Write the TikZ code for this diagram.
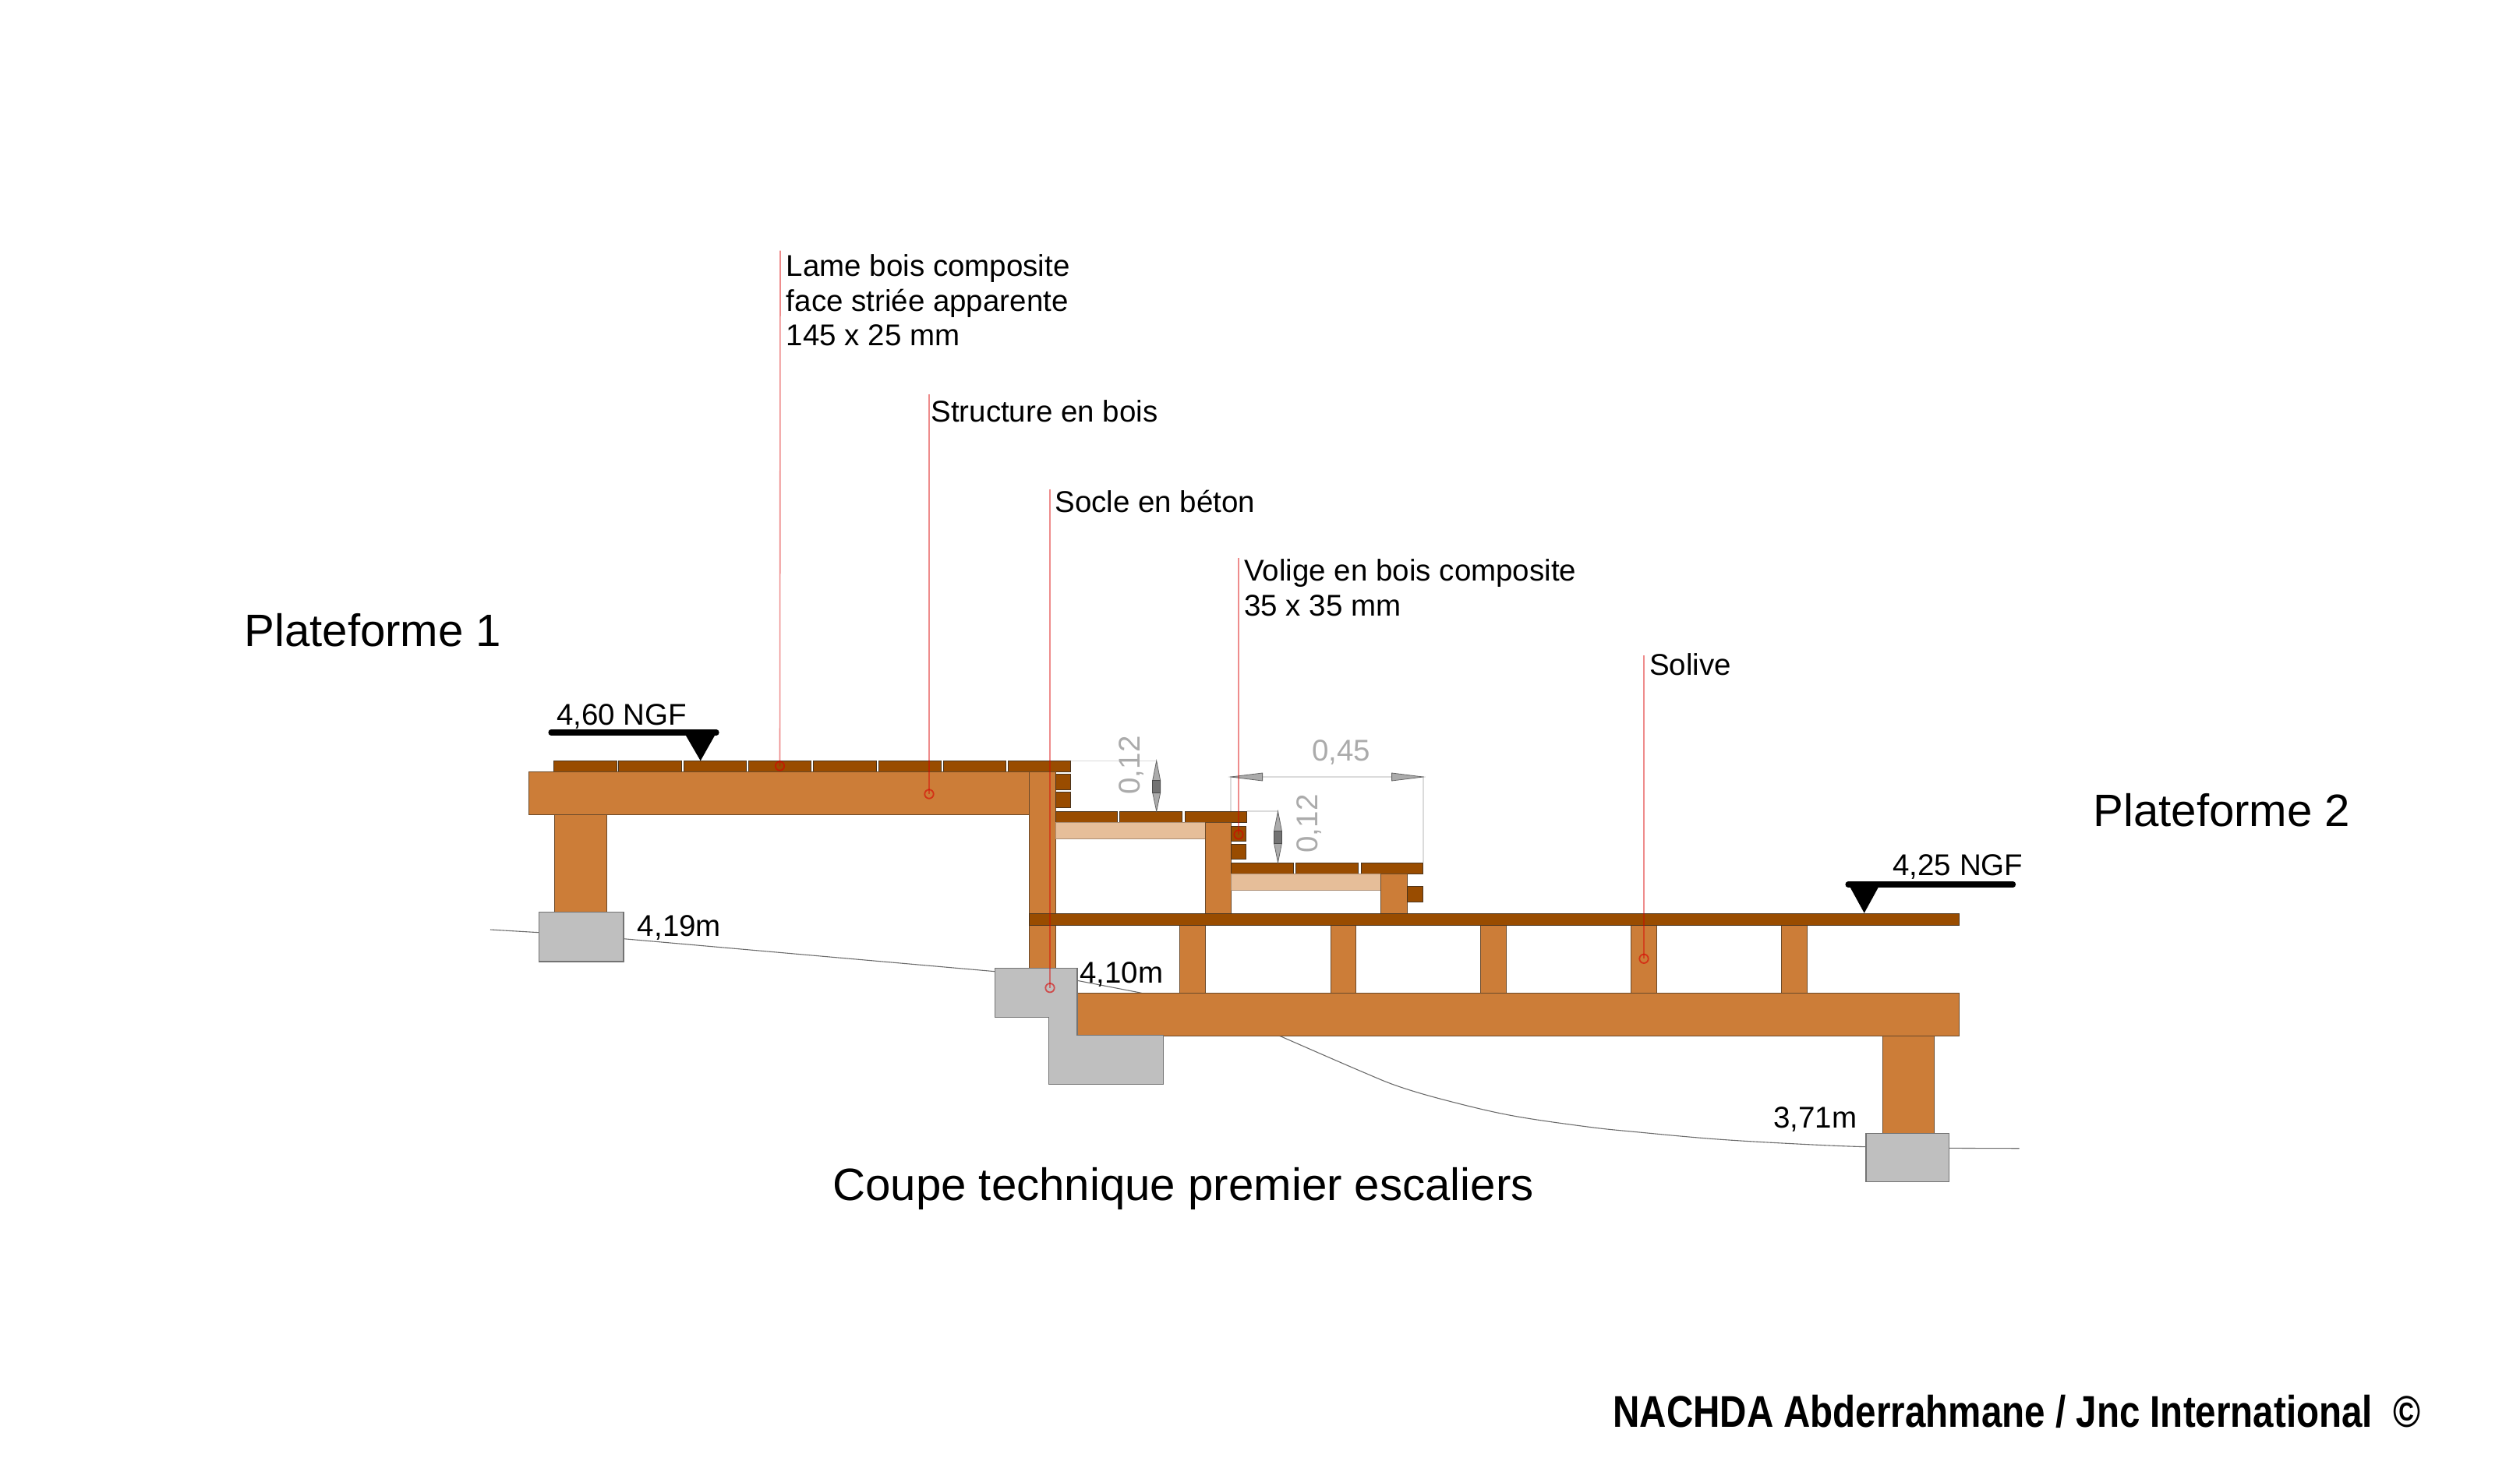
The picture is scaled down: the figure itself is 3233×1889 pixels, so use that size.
\documentclass[tikz,border=0pt]{standalone}
\usepackage{fontspec}
\setmainfont{Liberation Sans}
\definecolor{wood}{HTML}{CC7D38}
\definecolor{darkwood}{HTML}{994C00}
\definecolor{lightwood}{HTML}{E6BE99}
\definecolor{concrete}{HTML}{BFBFBF}
\definecolor{woodedge}{HTML}{6B4A2A}
\definecolor{dimtext}{HTML}{ABABAB}
\tikzset{
  woodpart/.style={fill=wood,draw=woodedge,line width=0.5pt},
  plank/.style={fill=darkwood,draw=woodedge!70!black,line width=0.35pt},
  lightpart/.style={fill=lightwood,draw=lightwood!75!black,line width=0.4pt},
  concretepart/.style={fill=concrete,draw=black!55,line width=0.6pt},
  groundline/.style={draw=black!58,line width=0.55pt},
  leader/.style={draw=red!85!black,draw opacity=0.45,line width=0.8pt},
  leaderdot/.style={draw=red!85!black,draw opacity=0.6,line width=0.9pt},
  levelbar/.style={draw=black,line width=3.6pt,line cap=round},
  dimline/.style={draw=black!14,line width=0.7pt},
  dimtip/.style={fill=black!33,draw=black!60,line width=0.4pt},
  dimbox/.style={fill=black!55,draw=black!70,line width=0.4pt},
  lab/.style={inner sep=0pt,anchor=base west,font=\fontsize{19.25}{22.4}\selectfont},
  biglab/.style={inner sep=0pt,anchor=base west,font=\fontsize{29.1}{33}\selectfont},
  dimlab/.style={inner sep=0pt,text=dimtext,font=\fontsize{19.25}{22.4}\selectfont},
}
\newcommand{\woodrect}[4]{\draw[woodpart] (#1,#2) rectangle (#3,#4);}
\newcommand{\plankrect}[4]{\draw[plank] (#1,#2) rectangle (#3,#4);}
\newcommand{\vdimension}[5]{% x, top, bottom, boxtop, boxbottom
  \draw[dimtip] (#1,#2) -- (#1+5,#4) -- (#1+5,#5) -- (#1,#3) -- (#1-5,#5) -- (#1-5,#4) -- cycle;
  \draw[dimbox] (#1-5,#4) rectangle (#1+5,#5);}
\begin{document}
\begin{tikzpicture}[x=0.5pt,y=-0.5pt]
\useasboundingbox (0,0) rectangle (3233,1889);
% ground
\draw[groundline] (629,1193) -- (691.5,1196.7) -- (800,1204.7) -- (1276.7,1246.7) -- (1382,1258.3) -- (1463,1274) -- (1643.3,1330);
\draw[groundline] plot[smooth,tension=0.6] coordinates {(1643.3,1330) (1746.7,1375) (1796.7,1395) (1860,1413.3) (1940,1431.7) (2036.7,1446) (2100,1452.7) (2200,1461.7) (2300,1467.7) (2394,1471.7) (2500.7,1473.3) (2590.7,1473.7)};
% dimension thin lines
\draw[dimline] (1373.5,976.3) -- (1483.7,976.3);
\draw[dimline] (1599.7,1041) -- (1639.5,1041);
\draw[dimline] (1579,1107) -- (1579,997) -- (1825.8,997) -- (1825.8,1107);
% platform 1
\foreach \a/\b in {710/791,793.5/874,877/957,960/1040.5,1043.6/1124,1127/1207,1210/1290.5,1293/1373.5}
  \plankrect{\a}{976.3}{\b}{990.3}
\woodrect{678}{990.3}{1320.4}{1045.7}
\woodrect{711.4}{1045.7}{778}{1170.7}
\draw[concretepart] (691.5,1170.7) rectangle (800,1234);
\woodrect{1320.4}{990.3}{1354}{1242.3}
\plankrect{1354}{993.3}{1373}{1013}
\plankrect{1354}{1016.7}{1373}{1036}
% first step
\foreach \a/\b in {1354/1433,1436/1516,1520/1599.7}
  \plankrect{\a}{1041}{\b}{1055}
\draw[lightpart] (1354,1055) rectangle (1546,1076.3);
\woodrect{1546}{1055}{1579.8}{1172.3}
\plankrect{1579.8}{1060}{1598.5}{1079}
\plankrect{1579.8}{1083}{1598.5}{1102.3}
% second step
\foreach \a/\b in {1579.8/1659.7,1662/1742.4,1746/1825.8}
  \plankrect{\a}{1107}{\b}{1121.5}
\draw[lightpart] (1579.8,1121.5) rectangle (1771.9,1142.7);
\woodrect{1771.9}{1121.5}{1805.5}{1172.3}
\plankrect{1805.5}{1137}{1825.8}{1157}
% platform 2
\foreach \a/\b in {1513.3/1546.3,1707/1739.7,1899/1932.7,2092.3/2125,2285.7/2318.7}
  \woodrect{\a}{1187}{\b}{1274}
\plankrect{1320.4}{1172.3}{2513.7}{1187}
\woodrect{1382}{1274}{2513.7}{1329}
\woodrect{2415.3}{1329}{2481.7}{1454.3}
% footings
\draw[concretepart] (1276.3,1242.3) -- (1382,1242.3) -- (1382,1328.7) -- (1492.3,1328.7) -- (1492.3,1391.7) -- (1345.7,1391.7) -- (1345.7,1305.7) -- (1276.3,1305.7) -- cycle;
\draw[concretepart] (2394,1454.3) rectangle (2500.7,1516.7);
% level marks
\draw[levelbar] (707,940) -- (919,940);
\fill[black] (878.8,942) -- (918,942) -- (898.7,976.3) -- cycle;
\draw[levelbar] (2371,1135) -- (2582.5,1135);
\fill[black] (2372.7,1137) -- (2410.7,1137) -- (2391.7,1171.7) -- cycle;
% dimension tips
\draw[dimtip] (1579,997) -- (1619.6,992) -- (1619.6,1002) -- cycle;
\draw[dimtip] (1825.8,997) -- (1785.6,992) -- (1785.6,1002) -- cycle;
\vdimension{1483.7}{976.3}{1041}{1001.7}{1017.3}
\vdimension{1639.5}{1041}{1107}{1066.7}{1082}
% leaders
\coordinate (t1) at (1001,321.7); \coordinate (e1) at (1000.5,983);
\coordinate (t2) at (1192,505.7); \coordinate (e2) at (1192,1019);
\coordinate (t3) at (1347,627.7); \coordinate (e3) at (1347,1267.7);
\coordinate (t4) at (1589,715.5); \coordinate (e4) at (1589,1071);
\coordinate (t5) at (2109,841);   \coordinate (e5) at (2109,1230.3);
\foreach \i in {1,...,5}{
  \draw[leader] (t\i) -- (e\i);
  \draw[leaderdot] (e\i) circle (5.7);
}
% labels
\node[lab,anchor=north west,align=left] (l1) at (1008.5,326) {Lame bois composite\\face striée apparente\\145 x 25 mm};
\node[lab] (l2) at (1194,541) {Structure en bois};
\node[lab] (l3) at (1353,657.5) {Socle en béton};
\node[lab,anchor=north west,align=left] (l4) at (1596,717) {Volige en bois composite\\35 x 35 mm};
\node[lab] (l5) at (2115.6,866) {Solive};
\node[biglab] (p1) at (313,829) {Plateforme 1};
\node[biglab] (p2) at (2685,1060) {Plateforme 2};
\node[biglab] (title) at (1068,1540) {Coupe technique premier escaliers};
\node[lab] (n1) at (714,930) {4,60 NGF};
\node[lab] (n2) at (2428,1123) {4,25 NGF};
\node[lab] (g1) at (817.5,1201.5) {4,19m};
\node[lab] (g2) at (1385,1261.5) {4,10m};
\node[lab] (g3) at (2275,1447) {3,71m};
\node[dimlab,rotate=90] (d1) at (1452,982) {0,12};
\node[dimlab,rotate=90] (d2) at (1679,1057) {0,12};
\node[dimlab,anchor=base] (d3) at (1720.5,976.7) {0,45};
\node[inner sep=0pt,anchor=base west] (credit) at (2069,1831) {\scalebox{0.834}[1]{\fontsize{28.5}{32}\selectfont\bfseries NACHDA Abderrahmane / Jnc International\ \ ©}};
\end{tikzpicture}
\end{document}
